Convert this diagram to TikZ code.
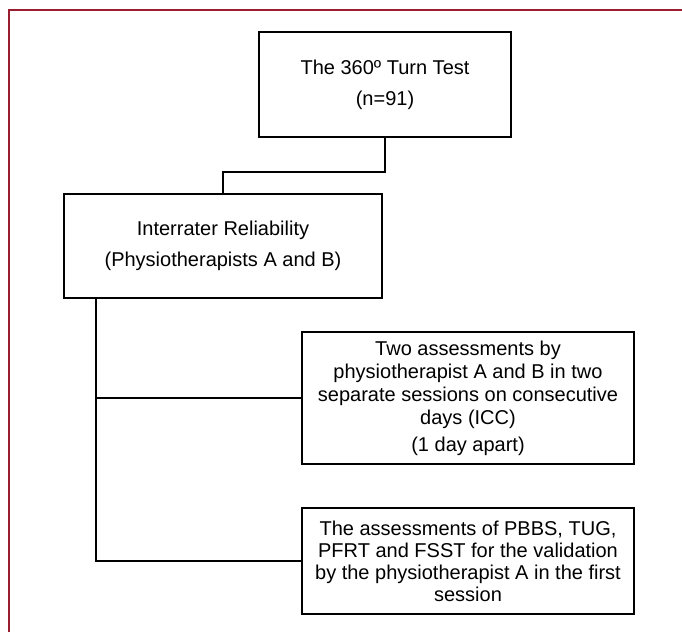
\documentclass[tikz,border=0pt]{standalone}
\usepackage{fontspec}
\setmainfont{Liberation Sans}
\definecolor{framered}{RGB}{155,30,48}
\begin{document}
\begin{tikzpicture}[x=1pt,y=-1pt,
  box/.style={draw=black,line width=1.6pt,align=center,inner sep=0pt,
    font=\fontsize{20}{23}\selectfont},
  link/.style={draw=black,line width=1.6pt}]
\useasboundingbox (0,0) rectangle (682,632);
% frame lines
\draw[framered,line width=2pt] (8.5,632) -- (8.5,9.5) -- (682,9.5);
% boxes
\node[box,minimum width=252pt,minimum height=105pt] (b1) at (385,84.5)
  {The 360º Turn Test\\[8pt](n=91)};
\node[box,minimum width=318pt,minimum height=104pt] (b2) at (223,246)
  {Interrater Reliability\\[8pt](Physiotherapists A and B)};
\node[box,minimum width=332pt,minimum height=132pt] (b3) at (468,398)
  {Two assessments by\\physiotherapist A and B in two\\separate sessions on consecutive\\days (ICC)\\[4pt](1 day apart)};
\node[box,minimum width=332pt,minimum height=106pt,
  font=\fontsize{20}{22}\selectfont] (b4) at (468,561)
  {The assessments of PBBS, TUG,\\PFRT and FSST for the validation\\by the physiotherapist A in the first\\session};
% connectors
\draw[link] (b1.south) -- ++(0,34) -| (b2.north);
\coordinate (c) at ([xshift=33pt]b2.south west);
\draw[link] (c) |- (b3.west);
\draw[link] (c) |- (b4.west);
\end{tikzpicture}
\end{document}
